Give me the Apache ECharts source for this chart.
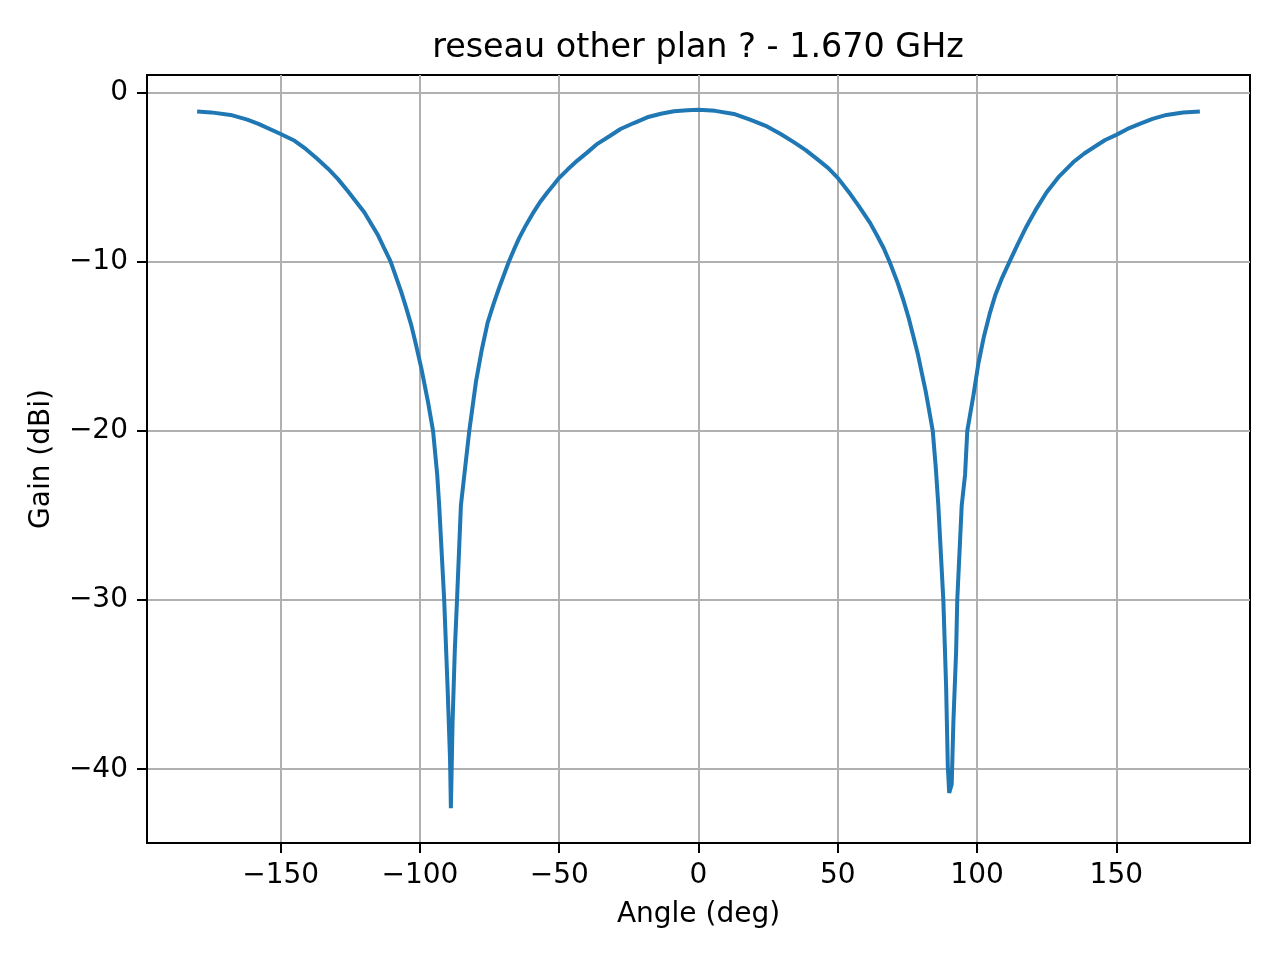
<!DOCTYPE html>
<html>
<head>
<meta charset="utf-8">
<script src="https://cdn.jsdelivr.net/npm/echarts@6/dist/echarts.min.js"></script>
<style>
  html, body { margin: 0; padding: 0; background: #fff; }
  #chart { width: 1280px; height: 960px; }
</style>
</head>
<body>
<div id="chart"></div>
<script>
// values
const angles = [
  -180, -175, -168, -162, -158, -150, -145, -141, -137, -133, -129.5, -126, -120,
  -115, -113, -110.6, -108.7, -106.7, -105, -103.1, -101.3, -99.5, -97.1, -95.3,
  -93.8, -93.1, -91.3, -90.1, -89.2, -88.9, -88.3, -87.5, -86.7, -85.3, -82.3,
  -79.9, -77.8, -75.7, -73.6, -71.6, -69.8, -68.1, -66.3, -64.4, -62, -59.6, -57, -54.2,
  -52, -50, -47, -43.5, -40, -36.3, -32, -28, -23.2, -18.4, -13.5, -8.8, -4, 0,
  6, 12.7, 18.5, 24.6, 29.5, 34.2, 38.5, 42.5, 46.5, 50, 54.5, 57.5, 61.6, 64.1,
  66.5, 68.6, 71.5, 73.6, 75.5, 77.2, 78.8, 80.2, 81.5, 82.6, 84.1, 85.2, 86.1, 87.9,
  88.9, 89.5, 90.0, 90.9, 91.5, 92.5, 92.9, 94.5, 95.7, 96.5, 98.7, 100.5, 102.5,
  104.5, 106.5, 109, 111.8, 114.5, 117.8, 121, 125, 129.5, 134.5, 138.5, 142.9, 146, 150,
  154, 158.4, 163, 168, 174, 180
];
const gains = [
  -1.12, -1.17, -1.32, -1.6, -1.85, -2.45, -2.85, -3.33, -3.9, -4.5, -5.1, -5.8, -7.07,
  -8.45, -9.15, -9.96, -10.85, -11.8, -12.7, -13.76, -15.0, -16.3, -18.3, -20.0,
  -22.6, -24.4, -30.0, -35.1, -39.4, -42.3, -37.25, -33.0, -30.0, -24.4, -20.0,
  -17.1, -15.2, -13.6, -12.5, -11.55, -10.75, -10.0, -9.3, -8.6, -7.85, -7.17, -6.5, -5.89,
  -5.45, -5.04, -4.55, -4.02, -3.55, -3.03, -2.58, -2.15, -1.8, -1.46, -1.25, -1.1, -1.04, -1.02,
  -1.08, -1.26, -1.6, -2.0, -2.45, -2.93, -3.4, -3.92, -4.45, -5.04, -6.0, -6.7, -7.7, -8.45,
  -9.2, -10.0, -11.25, -12.29, -13.35, -14.45, -15.5, -16.6, -17.6, -18.6, -20.0, -22.2, -24.4, -30.0,
  -35.1, -39.8, -41.4, -40.9, -37.25, -33.0, -30.0, -24.4, -22.6, -20.0, -17.9, -16.0, -14.4,
  -13.1, -12.0, -10.95, -9.95, -9.0, -7.9, -6.95, -5.89, -4.95, -4.12, -3.6, -3.13, -2.8, -2.5,
  -2.15, -1.85, -1.55, -1.32, -1.18, -1.12
];
const xTicks = [-150, -100, -50, 0, 50, 100, 150];
const yTicks = [-40, -30, -20, -10, 0];

const chart = echarts.init(document.getElementById('chart'));
const font = 'DejaVu Sans';
const minus = v => String(v).replace('-', '\u2212');

chart.setOption({
  backgroundColor: '#ffffff',
  animation: false,
  title: {
    text: 'reseau other plan ? - 1.670 GHz',
    left: 693,
    top: 27,
    textAlign: 'center',
    textStyle: { fontFamily: font, fontSize: 33.4, fontWeight: 'normal', color: '#000' }
  },
  grid: {
    left: 147, right: 30, top: 75, bottom: 117,
    show: true, borderColor: '#000', borderWidth: 2, backgroundColor: 'transparent'
  },
  xAxis: {
    type: 'value',
    min: -198, max: 198,
    name: 'Angle (deg)',
    nameLocation: 'middle',
    nameGap: 58,
    nameTextStyle: { fontFamily: font, fontSize: 28, color: '#000' },
    axisLine: { show: true, onZero: false, lineStyle: { color: '#000', width: 2 } },
    axisTick: { show: true, length: 10, customValues: xTicks, lineStyle: { color: '#000', width: 2 } },
    axisLabel: {
      customValues: xTicks, margin: 19,
      fontFamily: font, fontSize: 28, color: '#000',
      formatter: minus
    },
    splitLine: { show: true, lineStyle: { color: '#b0b0b0', width: 2 } }
  },
  yAxis: {
    type: 'value',
    min: -44.36, max: 1.04,
    name: 'Gain (dBi)',
    nameLocation: 'middle',
    nameGap: 91,
    nameTextStyle: { fontFamily: font, fontSize: 28, color: '#000' },
    axisLine: { show: true, onZero: false, lineStyle: { color: '#000', width: 2 } },
    axisTick: { show: true, length: 10, customValues: yTicks, lineStyle: { color: '#000', width: 2 } },
    axisLabel: {
      customValues: yTicks, margin: 19,
      fontFamily: font, fontSize: 28, color: '#000',
      formatter: minus
    },
    splitLine: { show: true, lineStyle: { color: '#b0b0b0', width: 2 } }
  },
  series: [{
    type: 'line',
    data: angles.map((a, i) => [a, gains[i]]),
    showSymbol: false,
    smooth: false,
    lineStyle: { color: '#1f77b4', width: 4 },
    clip: true
  }]
});
</script>
</body>
</html>
